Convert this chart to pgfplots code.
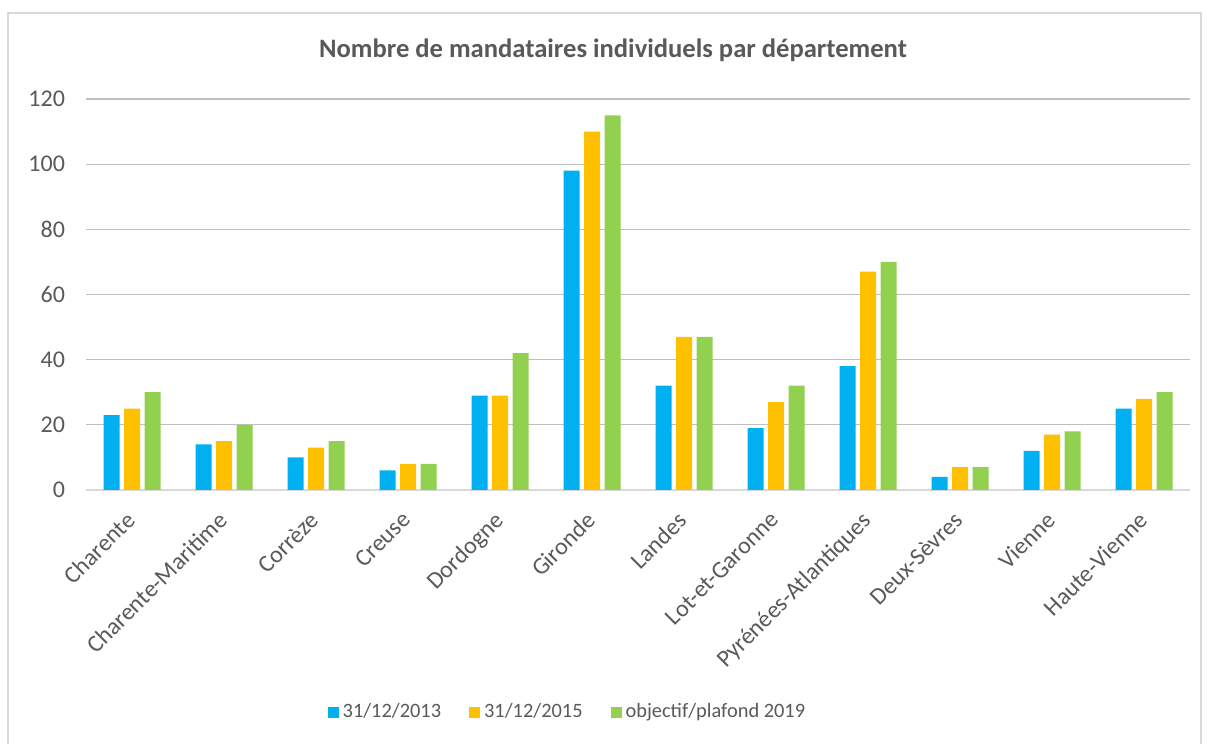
\documentclass[border=0pt]{standalone}
\usepackage{fontspec}
\setmainfont{Carlito}
\usepackage{pgfplots}
\pgfplotsset{compat=1.18}
\definecolor{sblue}{HTML}{00B0F0}
\definecolor{sorange}{HTML}{FFC000}
\definecolor{sgreen}{HTML}{92D050}
\definecolor{txt}{HTML}{595959}
\definecolor{grid}{HTML}{D9D9D9}
\begin{document}
\begin{tikzpicture}
\path[use as bounding box] (0,0) rectangle (604pt,371.5pt);
\draw[grid, line width=0.6pt] (4pt,-2pt) -- (4pt,365pt) -- (600.5pt,365pt) -- (600.5pt,-2pt);
\node[text=txt, font=\fontsize{13.3}{15}\selectfont\bfseries] at (306.5pt,346.5pt) {Nombre de mandataires individuels par département};
\begin{axis}[
  at={(43pt,126.5pt)}, anchor=south west,
  scale only axis, width=552pt, height=195.5pt,
  xmin=-0.5, xmax=11.5, ymin=0, ymax=120,
  ytick={0,20,...,120},
  xtick={0,...,11},
  xticklabels={Charente,Charente-Maritime,Corrèze,Creuse,Dordogne,Gironde,Landes,Lot-et-Garonne,Pyrénées-Atlantiques,Deux-Sèvres,Vienne,Haute-Vienne},
  xticklabel style={rotate=45, anchor=north east, inner sep=1pt, yshift=-3.5pt, xshift=-8.6pt},
  yticklabel style={xshift=-7pt},
  tick label style={text=txt, font=\fontsize{12}{14}\selectfont},
  /pgf/number format/assume math mode=true,
  major tick length=0pt,
  xmajorgrids=false, ymajorgrids=true,
  major grid style={grid, line width=0.6pt},
  separate axis lines,
  axis x line*=bottom, axis y line*=left,
  x axis line style={grid, line width=0.6pt, -},
  y axis line style={draw=none},
  ybar, bar width=8pt,
  legend columns=3,
  legend style={at={(0.437,-0.5678)}, anchor=center, draw=none, fill=none,
    font=\fontsize{10.2}{12}\selectfont, text=txt,
    /tikz/every even column/.append style={column sep=12pt}},
  legend image code/.code={\fill[#1] (0pt,-2.75pt) rectangle (5.5pt,2.75pt);},
]
\addplot[fill=sblue, draw=none, bar shift=-10.25pt] coordinates {(0,23) (1,14) (2,10) (3,6) (4,29) (5,98) (6,32) (7,19) (8,38) (9,4) (10,12) (11,25)};
\addplot[fill=sorange, draw=none, bar shift=0pt] coordinates {(0,25) (1,15) (2,13) (3,8) (4,29) (5,110) (6,47) (7,27) (8,67) (9,7) (10,17) (11,28)};
\addplot[fill=sgreen, draw=none, bar shift=10.25pt] coordinates {(0,30) (1,20) (2,15) (3,8) (4,42) (5,115) (6,47) (7,32) (8,70) (9,7) (10,18) (11,30)};
\legend{31/12/2013,31/12/2015,objectif/plafond 2019}
\end{axis}
\end{tikzpicture}
\end{document}
